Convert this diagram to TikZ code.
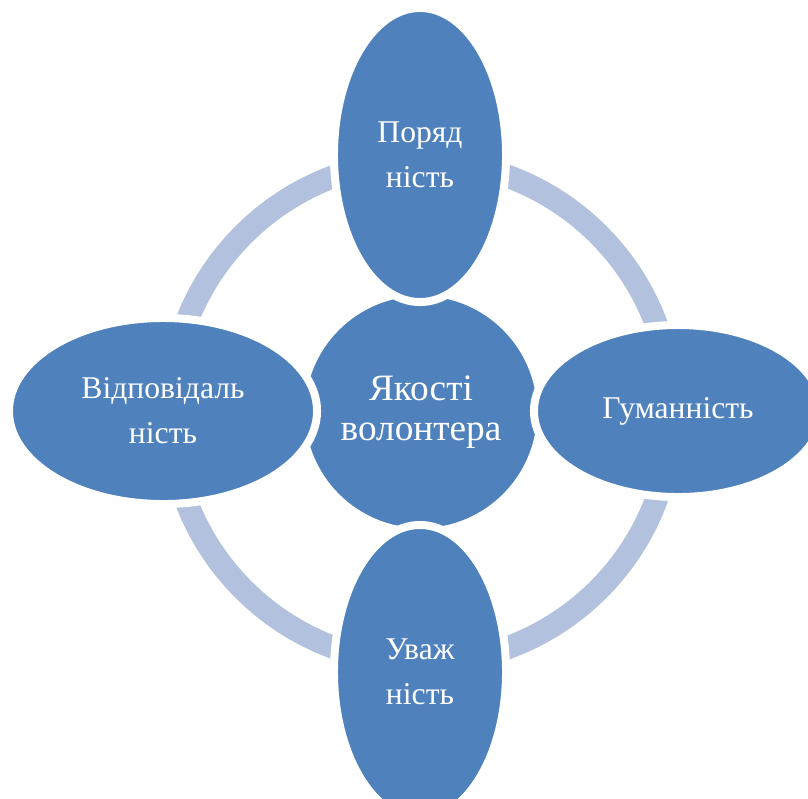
\documentclass[tikz,border=0pt]{standalone}
\usepackage{fontspec}
\setmainfont{Liberation Serif}
\usetikzlibrary{shapes.geometric}
\definecolor{petal}{RGB}{79,129,189}
\definecolor{ringc}{RGB}{178,194,222}

\begin{document}
\begin{tikzpicture}[x=0.025cm,y=-0.025cm,
  petalnode/.style={ellipse,fill=petal,draw=white,line width=0.2cm,inner sep=0pt,
    text=white,align=center,font=\fontsize{22.5}{32}\selectfont},
  hub/.style={circle,fill=petal,draw=white,line width=0.2cm,inner sep=0pt,
    minimum size=6cm,text=white,align=center,font=\fontsize{26.5}{28}\selectfont},
  ring/.style={draw=ringc,line width=0.575cm}]
\clip (0,0) rectangle (808,798);
\coordinate (mid) at (421,412);
\draw[ring] (mid) circle[radius=6.275cm];
\node (c) at (mid) [hub] {Якості\\волонтера};
\node (top) at (420,155) [petalnode,minimum width=4.3cm,minimum height=7.35cm] {Поряд\\ність};
\node (right) at (678,411) [petalnode,minimum width=7.2cm,minimum height=4.3cm] {Гуманність};
\node (bot) at (420,672) [petalnode,minimum width=4.3cm,minimum height=7.35cm] {Уваж\\ність};
\node (left) at (163,411) [petalnode,minimum width=7.7cm,minimum height=4.65cm] {Відповідаль\\ність};
\end{tikzpicture}
\end{document}
